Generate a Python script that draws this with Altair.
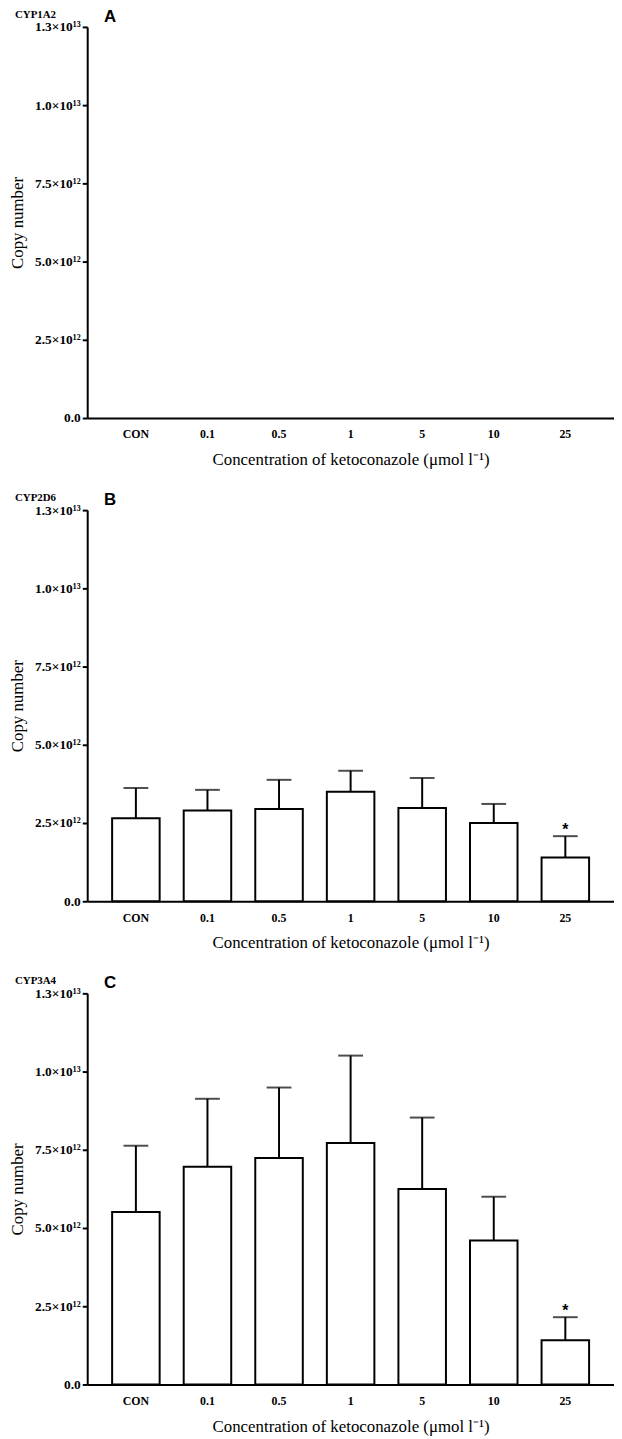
import altair as alt
import pandas as pd

categories = ["CON", "0.1", "0.5", "1", "5", "10", "25"]

a_mean = [None] * 7
a_upper = [None] * 7
a_sig = [""] * 7

b_mean = [2.65e12, 2.90e12, 2.95e12, 3.50e12, 2.98e12, 2.50e12, 1.40e12]
b_upper = [3.62e12, 3.56e12, 3.88e12, 4.17e12, 3.94e12, 3.11e12, 2.08e12]
b_sig = ["", "", "", "", "", "", "*"]

c_mean = [5.51e12, 6.96e12, 7.24e12, 7.72e12, 6.25e12, 4.60e12, 1.41e12]
c_upper = [7.63e12, 9.13e12, 9.49e12, 10.51e12, 8.53e12, 6.00e12, 2.15e12]
c_sig = ["", "", "", "", "", "", "*"]

tick_values = [0, 2.5e12, 5e12, 7.5e12, 1e13, 1.25e13]
tick_labels = ["0.0", "2.5×10¹²", "5.0×10¹²", "7.5×10¹²", "1.0×10¹³", "1.3×10¹³"]

x_title = "Concentration of ketoconazole (μmol l⁻¹)"
y_title = "Copy number"

SERIF = "Liberation Serif"
SANS = "Liberation Sans"

label_expr = "[" + ",".join("'%s'" % t for t in tick_labels) + "][indexof([" + ",".join(repr(float(v)) for v in tick_values) + "], datum.value)]"


def panel(gene, letter, mean, upper, sig):
    df = pd.DataFrame({"cat": categories, "mean": mean, "upper": upper, "sig": sig})
    xs = alt.Scale(domain=categories, paddingInner=0.336, paddingOuter=0.348)
    ys = alt.Scale(domain=[0, 1.25e13], nice=False, zero=True)
    x = alt.X("cat:N", sort=categories, scale=xs,
              axis=alt.Axis(title=x_title, ticks=False, labelAngle=0, labelPadding=11,
                            labelFontSize=12, titlePadding=12))
    y = alt.Y("mean:Q", scale=ys,
              axis=alt.Axis(title=y_title, values=tick_values, labelExpr=label_expr,
                            labelFontSize=13.5, tickSize=5, tickWidth=2, labelPadding=2,
                            titlePadding=8))
    base = alt.Chart(df)
    err = base.mark_rule(color="black", strokeWidth=2).encode(
        x=alt.X("cat:N", sort=categories, scale=xs),
        y=alt.Y("mean:Q", scale=ys), y2="upper:Q")
    caps = base.mark_tick(color="black", thickness=2, size=25).encode(
        x=alt.X("cat:N", sort=categories, scale=xs),
        y=alt.Y("upper:Q", scale=ys))
    bars = base.mark_bar(fill="white", stroke="black", strokeWidth=2).encode(x=x, y=y)
    star = base.mark_text(font=SANS, fontSize=16, fontWeight="bold", dy=-6, baseline="middle").encode(
        x=alt.X("cat:N", sort=categories, scale=xs),
        y=alt.Y("upper:Q", scale=ys), text="sig:N")
    lab = alt.Chart(pd.DataFrame({"t": [gene]})).mark_text(
        font=SERIF, fontSize=11, fontWeight="bold", align="left", baseline="top"
    ).encode(x=alt.value(-73), y=alt.value(-18), text="t:N")
    let = alt.Chart(pd.DataFrame({"t": [letter]})).mark_text(
        font=SANS, fontSize=17, fontWeight="bold", align="left", baseline="top"
    ).encode(x=alt.value(17), y=alt.value(-18), text="t:N")
    return alt.layer(bars, err, caps, star, lab, let).properties(width=532, height=395)


chart = alt.vconcat(
    panel("CYP1A2", "A", a_mean, a_upper, a_sig),
    panel("CYP2D6", "B", b_mean, b_upper, b_sig),
    panel("CYP3A4", "C", c_mean, c_upper, c_sig),
    spacing=24,
).properties(padding={"left": 0, "top": -7, "right": 0, "bottom": 0}).configure_view(
    stroke=None
).configure_axis(
    grid=False, domainColor="black", domainWidth=2, tickColor="black",
    labelFont=SERIF, labelFontSize=12, labelFontWeight="bold", labelColor="black",
    titleFont=SERIF, titleFontSize=17, titleFontWeight="normal", titleColor="black",
)

chart.save("out.html", embed_options={"renderer": "svg", "actions": False})
